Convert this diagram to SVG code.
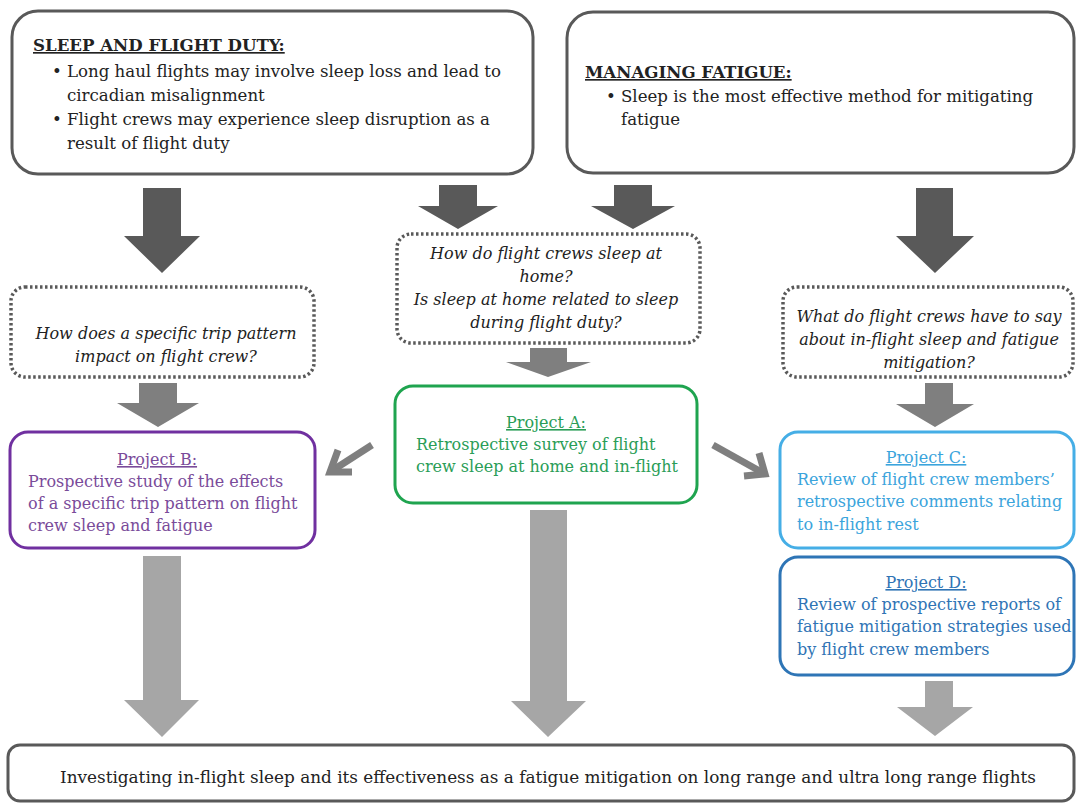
<svg xmlns="http://www.w3.org/2000/svg" width="1076" height="804" viewBox="0 0 1076 804">
  <style>
    text { font-family: "DejaVu Serif", "Liberation Serif", serif; font-size: 16px; fill: #222; }
    .top text { font-size: 16.6px; }
    .hd { font-weight: bold; text-decoration: underline; }
    .it { font-style: italic; }
    .mid { text-anchor: middle; }
    .ul { text-decoration: underline; }
    .solid { fill: #fff; stroke: #595959; stroke-width: 3; }
    .dotted { fill: #fff; stroke: #595959; stroke-width: 3.5; stroke-dasharray: 2.5 2.5; }
    .dark { fill: #595959; }
    .medium { fill: #7f7f7f; }
    .light { fill: #a6a6a6; }
    .diag { fill: none; stroke: #7f7f7f; stroke-width: 7; stroke-linejoin: miter; }
  </style>

  <rect width="1076" height="804" fill="#fff"/>

  <!-- context boxes -->
  <g id="sleep-flight-duty" class="top">
    <rect class="solid" x="12" y="11" width="521" height="163" rx="26"/>
    <text class="hd" x="33" y="51">SLEEP AND FLIGHT DUTY:</text>
    <text x="52" y="77">•</text>
    <text x="67" y="77">Long haul flights may involve sleep loss and lead to</text>
    <text x="67" y="101">circadian misalignment</text>
    <text x="52" y="125">•</text>
    <text x="67" y="125">Flight crews may experience sleep disruption as a</text>
    <text x="67" y="149">result of flight duty</text>
  </g>

  <g id="managing-fatigue" class="top">
    <rect class="solid" x="567" y="12" width="507" height="161" rx="26"/>
    <text class="hd" x="585" y="78">MANAGING FATIGUE:</text>
    <text x="606" y="102">•</text>
    <text x="621" y="102">Sleep is the most effective method for mitigating</text>
    <text x="621" y="125">fatigue</text>
  </g>

  <!-- research questions -->
  <g id="question-trip-pattern">
    <rect class="dotted" x="11" y="287" width="303" height="90" rx="14"/>
    <text class="it mid" x="166" y="339">How does a specific trip pattern</text>
    <text class="it mid" x="166" y="362">impact on flight crew?</text>
  </g>

  <g id="question-home-sleep">
    <rect class="dotted" x="397" y="234" width="303" height="109" rx="14"/>
    <text class="it mid" x="546" y="259">How do flight crews sleep at</text>
    <text class="it mid" x="546" y="282">home?</text>
    <text class="it mid" x="546" y="305">Is sleep at home related to sleep</text>
    <text class="it mid" x="546" y="328">during flight duty?</text>
  </g>

  <g id="question-crew-views">
    <rect class="dotted" x="783" y="287" width="290" height="90" rx="14"/>
    <text class="it mid" x="929" y="322">What do flight crews have to say</text>
    <text class="it mid" x="929" y="345">about in-flight sleep and fatigue</text>
    <text class="it mid" x="929" y="368">mitigation?</text>
  </g>

  <!-- projects -->
  <g id="project-a">
    <rect x="395" y="386" width="302" height="117" rx="18" fill="#fff" stroke="#1fa44f" stroke-width="3"/>
    <text class="mid ul" x="546" y="428" style="fill:#2a9d57">Project A:</text>
    <text x="416" y="450" style="fill:#2a9d57">Retrospective survey of flight</text>
    <text x="416" y="472" style="fill:#2a9d57">crew sleep at home and in-flight</text>
  </g>

  <g id="project-b">
    <rect x="10" y="432" width="305" height="116" rx="18" fill="#fff" stroke="#7030a0" stroke-width="3"/>
    <text class="mid ul" x="157" y="465" style="fill:#7a4b9a">Project B:</text>
    <text x="28" y="487" style="fill:#7a4b9a">Prospective study of the effects</text>
    <text x="28" y="509" style="fill:#7a4b9a">of a specific trip pattern on flight</text>
    <text x="28" y="531" style="fill:#7a4b9a">crew sleep and fatigue</text>
  </g>

  <g id="project-c">
    <rect x="780" y="432" width="294" height="116" rx="18" fill="#fff" stroke="#45aee6" stroke-width="3"/>
    <text class="mid ul" x="926" y="463" style="fill:#3ba4dc">Project C:</text>
    <text x="797" y="485" style="fill:#3ba4dc">Review of flight crew members’</text>
    <text x="797" y="507" style="fill:#3ba4dc">retrospective comments relating</text>
    <text x="797" y="530" style="fill:#3ba4dc">to in-flight rest</text>
  </g>

  <g id="project-d">
    <rect x="780" y="557" width="294" height="118" rx="18" fill="#fff" stroke="#2e75b6" stroke-width="3"/>
    <text class="mid ul" x="926" y="588" style="fill:#2f74b5">Project D:</text>
    <text x="797" y="610" style="fill:#2f74b5">Review of prospective reports of</text>
    <text x="797" y="632" style="fill:#2f74b5">fatigue mitigation strategies used</text>
    <text x="797" y="655" style="fill:#2f74b5">by flight crew members</text>
  </g>

  <!-- overall aim -->
  <g id="overall-aim">
    <rect class="solid" x="8" y="745" width="1066" height="56" rx="12"/>
    <text class="mid" x="548" y="783" font-size="19" textLength="976" lengthAdjust="spacingAndGlyphs">Investigating in-flight sleep and its effectiveness as a fatigue mitigation on long range and ultra long range flights</text>
  </g>

  <!-- block arrows -->
  <g id="connectors">
    <polygon class="dark" points="143,188 181,188 181,236 200,236 162,273 124,236 143,236"/>
    <polygon class="dark" points="439,185 477,185 477,206 498,206 458,229 418,206 439,206"/>
    <polygon class="dark" points="614,185 652,185 652,206 675,206 633,229 591,206 614,206"/>
    <polygon class="dark" points="916,188 953,188 953,236 974,236 935,273 896,236 916,236"/>

    <polygon class="medium" points="139,383 177,383 177,403 199,403 158,427 117,403 139,403"/>
    <polygon class="medium" points="530,348 567,348 567,362 591,362 548,377 506,362 530,362"/>
    <polygon class="medium" points="925,383 953,383 953,404 974,404 935,427 896,404 925,404"/>

    <polyline class="diag" points="372,445 330,472"/>
    <polyline class="diag" points="352,472 330,472 338,450"/>
    <polyline class="diag" points="713,445 765,474"/>
    <polyline class="diag" points="744,476 765,474 759,453"/>

    <polygon class="light" points="143,556 181,556 181,700 199,700 162,737 124,700 143,700"/>
    <polygon class="light" points="530,510 567,510 567,701 586,701 548,737 511,701 530,701"/>
    <polygon class="light" points="925,681 953,681 953,707 973,707 935,736 897,707 925,707"/>
  </g>
</svg>
